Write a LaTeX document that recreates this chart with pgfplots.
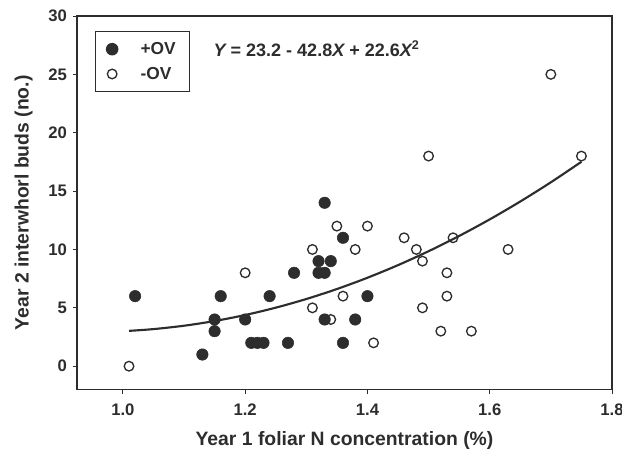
\documentclass[border=0pt]{standalone}
\usepackage{fontspec}
\setmainfont{Liberation Sans}
\usepackage{pgfplots}
\pgfplotsset{compat=1.18}

\definecolor{ink}{RGB}{45,45,45}

\begin{document}
\begin{tikzpicture}
\begin{axis}[
    name=ax,
    scale only axis,
    width=401pt, height=280pt,
    xmin=0.925, xmax=1.8,
    ymin=-2, ymax=30,
    xtick={1.0,1.2,1.4,1.6,1.8},
    ytick={0,5,10,15,20,25,30},
    /pgf/number format/assume math mode=true,
    ticklabel style={font=\fontsize{12.5}{14}\selectfont\bfseries, text=ink},
    xticklabel style={yshift=-4pt, /pgf/number format/fixed,
        /pgf/number format/fixed zerofill, /pgf/number format/precision=1},
    yticklabel style={xshift=-1pt},
    tick align=outside,
    major tick length=3pt,
    xtick pos=bottom, ytick pos=left,
    axis line style={ink, line width=0.9pt},
    every tick/.style={ink, line width=0.6pt},
    every axis y label/.style={at={(axis description cs:-0.1,0.5)}, rotate=90, anchor=center},
    every axis x label/.style={at={(axis description cs:0.5,-0.136)}, anchor=center},
    label style={font=\fontsize{14.5}{16}\selectfont\bfseries, text=ink},
    xlabel={Year 1 foliar N concentration (\%)},
    ylabel={Year 2 interwhorl buds (no.)},
    legend style={at={(0.034,0.960)}, anchor=north west, draw=ink, line width=0.8pt,
        font=\fontsize{13}{15}\selectfont\bfseries, text=ink,
        inner xsep=8pt, inner ysep=6pt, row sep=4pt,
        /tikz/every odd column/.append style={column sep=15pt},
        /tikz/every even column/.append style={column sep=8pt}},
    legend cell align=left,
]
% +OV (filled)
\addplot[only marks, mark=*, mark size=4.3pt, ink, fill=ink] coordinates {
    (1.02,6) (1.13,1) (1.15,4) (1.15,3) (1.16,6) (1.20,4)
    (1.21,2) (1.22,2) (1.23,2) (1.24,6) (1.27,2) (1.28,8)
    (1.32,9) (1.34,9) (1.32,8) (1.33,8) (1.33,14) (1.36,11)
    (1.33,4) (1.38,4) (1.36,2) (1.40,6)
};
\addlegendentry{+OV}
% -OV (open)
\addplot[only marks, mark=o, mark size=3.6pt, ink, line width=1pt] coordinates {
    (1.01,0) (1.20,8) (1.31,10) (1.31,5) (1.34,4) (1.35,12)
    (1.36,6) (1.38,10) (1.40,12) (1.41,2) (1.46,11) (1.48,10)
    (1.49,9) (1.49,5) (1.50,18) (1.52,3) (1.53,8) (1.53,6)
    (1.54,11) (1.57,3) (1.63,10) (1.70,25) (1.75,18)
};
\addlegendentry{-OV}
% fitted curve Y = 23.2 - 42.8X + 22.6X^2 (tabulated)
\addplot[ink, line width=1.6pt, smooth, forget plot] coordinates {
    (1.01,3.026) (1.05,3.177) (1.10,3.466) (1.15,3.869) (1.20,4.384)
    (1.25,5.013) (1.30,5.754) (1.35,6.609) (1.40,7.576) (1.45,8.657)
    (1.50,9.850) (1.55,11.157) (1.60,12.576) (1.65,14.109) (1.70,15.754)
    (1.75,17.513)
};
\node[anchor=west, inner sep=0pt, font=\fontsize{13.5}{15}\selectfont\bfseries, text=ink]
    at (axis cs:1.148,27.2) {\itshape Y\upshape{} = 23.2 - 42.8\itshape X\upshape{} + 22.6\itshape X\upshape$^{\mathbf{2}}$};
\end{axis}
\pgfresetboundingbox
\path ([shift={(-57.75pt,-49.5pt)}]ax.south west) rectangle ([shift={(7.5pt,12pt)}]ax.north east);
\end{tikzpicture}
\end{document}
